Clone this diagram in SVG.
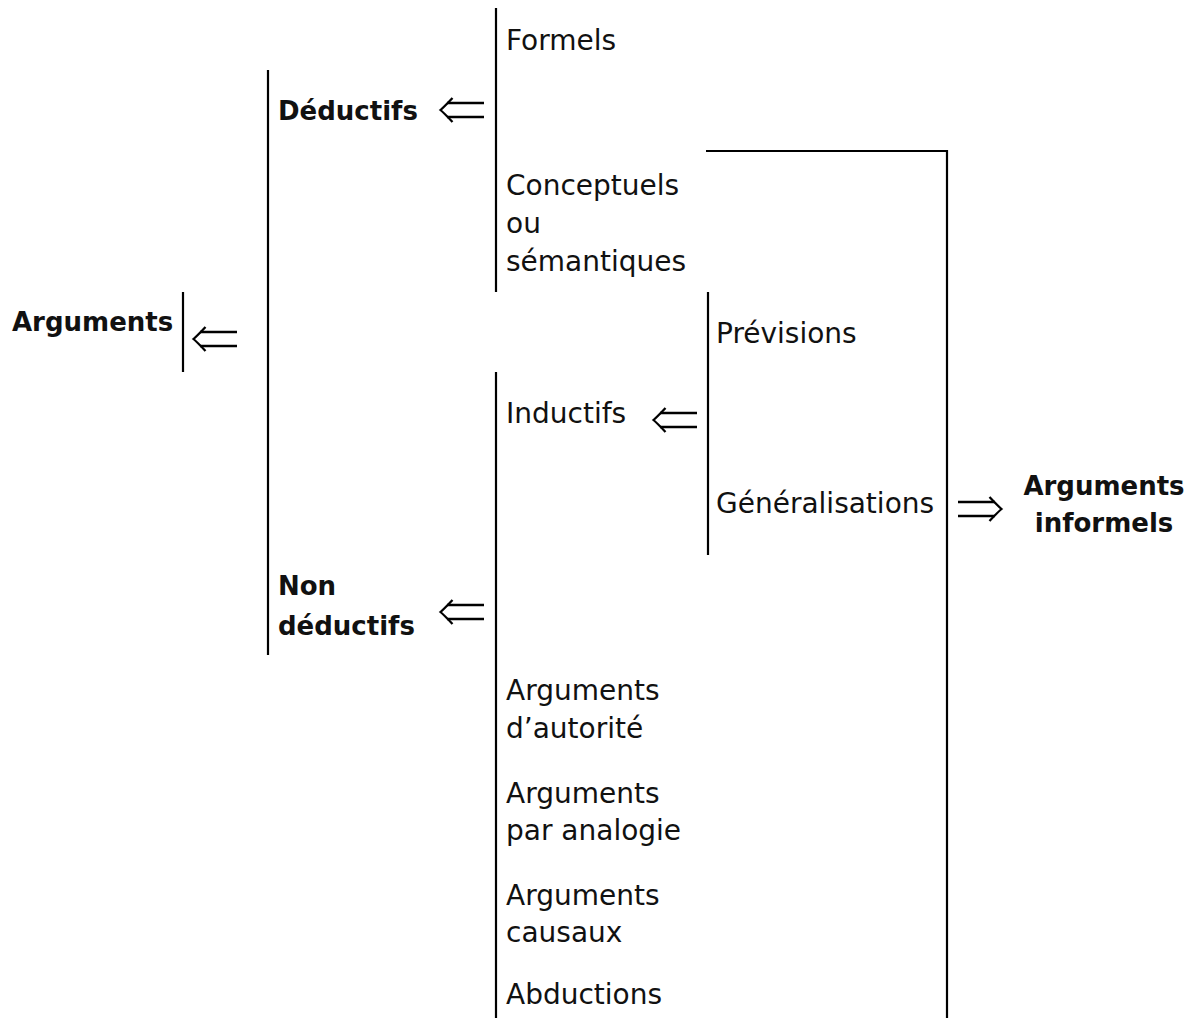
<svg xmlns="http://www.w3.org/2000/svg" width="1192" height="1018" viewBox="0 0 1192 1018">
<style>
.t{font-family:"DejaVu Sans","Noto Sans",sans-serif;font-size:28px;fill:#111}
.b{font-family:"DejaVu Sans","Noto Sans",sans-serif;font-size:26px;font-weight:bold;fill:#111}
.l{stroke:#000;stroke-width:2.2;fill:none}
.ar{stroke:#000;stroke-width:2.3;fill:none;stroke-linecap:butt}
</style>
<defs>
<g id="larr" class="ar">
<path d="M7,-7 H44 M7,7 H44"/>
<path d="M12.5,-12 Q4,-3 0.5,0 Q4,3 12.5,12"/>
</g>
<g id="rarr" class="ar">
<path d="M-7,-7 H-44 M-7,7 H-44"/>
<path d="M-12.5,-12 Q-4,-3 -0.5,0 Q-4,3 -12.5,12"/>
</g>
</defs>
<rect width="1192" height="1018" fill="#fff"/>
<g id="connectors">
<line class="l" x1="183" y1="292" x2="183" y2="372"/>
<line class="l" x1="268" y1="70" x2="268" y2="655"/>
<line class="l" x1="496" y1="8" x2="496" y2="292"/>
<line class="l" x1="496" y1="372" x2="496" y2="1018"/>
<line class="l" x1="708" y1="292" x2="708" y2="555"/>
<polyline class="l" points="706,151 947,151 947,1018"/>
<use href="#larr" x="193" y="339"/>
<use href="#larr" x="440" y="110"/>
<use href="#larr" x="653" y="420"/>
<use href="#larr" x="440" y="612"/>
<use href="#rarr" x="1002" y="509"/>
</g>
<g id="n-arguments"><text class="b" x="12" y="331">Arguments</text></g>
<g id="n-deductifs"><text class="b" x="278" y="120">Déductifs</text></g>
<g id="n-nondeductifs"><text class="b" x="278" y="595">Non</text><text class="b" x="278" y="635">déductifs</text></g>
<g id="n-formels"><text class="t" x="506" y="50">Formels</text></g>
<g id="n-conceptuels"><text class="t" x="506" y="195">Conceptuels</text><text class="t" x="506" y="233">ou</text><text class="t" x="506" y="271">sémantiques</text></g>
<g id="n-inductifs"><text class="t" x="506" y="423">Inductifs</text></g>
<g id="n-previsions"><text class="t" x="716" y="343">Prévisions</text></g>
<g id="n-generalisations"><text class="t" x="716" y="513">Généralisations</text></g>
<g id="n-informels"><text class="b" x="1104" y="495" text-anchor="middle">Arguments</text><text class="b" x="1104" y="532" text-anchor="middle">informels</text></g>
<g id="n-autorite"><text class="t" x="506" y="700">Arguments</text><text class="t" x="506" y="738">d’autorité</text></g>
<g id="n-analogie"><text class="t" x="506" y="803">Arguments</text><text class="t" x="506" y="840">par analogie</text></g>
<g id="n-causaux"><text class="t" x="506" y="905">Arguments</text><text class="t" x="506" y="942">causaux</text></g>
<g id="n-abductions"><text class="t" x="506" y="1004">Abductions</text></g>
</svg>
